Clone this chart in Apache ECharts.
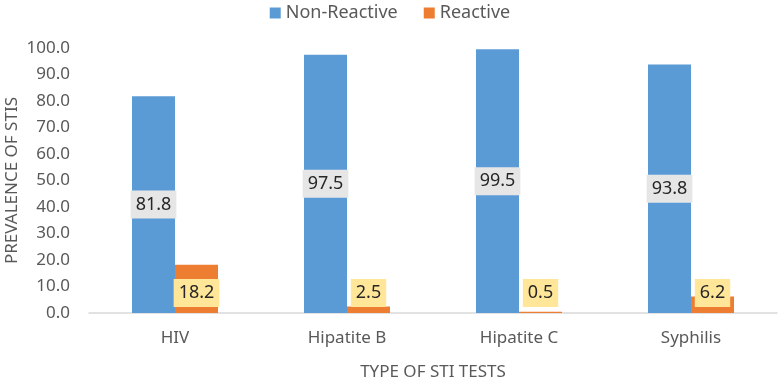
<!DOCTYPE html>
<html>
<head>
<meta charset="utf-8">
<script src="https://cdn.jsdelivr.net/npm/echarts@6/dist/echarts.min.js"></script>
<style>
html, body { margin: 0; padding: 0; background: #fff; }
#main { width: 780px; height: 382px; }
</style>
</head>
<body>
<div id="main"></div>
<script>
let categories = ['HIV', 'Hipatite B', 'Hipatite C', 'Syphilis'];
let nonReactive = [81.8, 97.5, 99.5, 93.8];
let reactive = [18.2, 2.5, 0.5, 6.2];
let yTicks = [0, 10, 20, 30, 40, 50, 60, 70, 80, 90, 100];

let font = 'Noto Sans';
let chart = echarts.init(document.getElementById('main'));

let option = {
    animation: false,
    textStyle: { fontFamily: font },
    legend: {
        top: -1,
        left: 'center',
        itemWidth: 11,
        itemHeight: 11,
        itemGap: 26,
        icon: 'rect',
        textStyle: { fontSize: 18, color: '#595959', fontFamily: font },
        data: ['Non-Reactive', 'Reactive']
    },
    grid: { left: 89, right: 3, top: 48, bottom: 69, outerBoundsMode: 'none' },
    xAxis: {
        type: 'category',
        data: categories,
        name: 'TYPE OF STI TESTS',
        nameLocation: 'middle',
        nameGap: 51,
        nameMoveOverlap: false,
        nameTextStyle: { fontSize: 17, color: '#595959' },
        axisLine: { lineStyle: { color: '#D9D9D9', width: 1.5 } },
        axisTick: { show: false },
        axisLabel: { fontSize: 17, color: '#595959', margin: 17 }
    },
    yAxis: {
        type: 'value',
        min: yTicks[0],
        max: yTicks[yTicks.length - 1],
        interval: 10,
        name: 'PREVALENCE OF STIS',
        nameLocation: 'middle',
        nameGap: 68,
        nameMoveOverlap: false,
        nameTextStyle: { fontSize: 17, color: '#595959' },
        splitLine: { show: false },
        axisLine: { show: false },
        axisTick: { show: false },
        axisLabel: {
            fontSize: 17, color: '#595959', margin: 19,
            formatter: function (v) { return v.toFixed(1); }
        }
    },
    series: [
        {
            name: 'Non-Reactive',
            type: 'bar',
            data: nonReactive,
            barGap: '0%',
            barCategoryGap: '50%',
            itemStyle: { color: '#5B9BD5' },
            label: {
                show: true,
                position: 'inside',
                fontSize: 18,
                color: '#262626',
                backgroundColor: '#E7E6E6',
                padding: [5, 5],
                formatter: function (p) { return p.value.toFixed(1); }
            }
        },
        {
            name: 'Reactive',
            type: 'bar',
            data: reactive,
            itemStyle: { color: '#ED7D31' },
            label: {
                show: true,
                position: 'insideBottom',
                distance: 6,
                fontSize: 18,
                color: '#262626',
                backgroundColor: '#FFE699',
                padding: [5, 5],
                formatter: function (p) { return p.value.toFixed(1); }
            }
        }
    ]
};

chart.setOption(option);
</script>
</body>
</html>
